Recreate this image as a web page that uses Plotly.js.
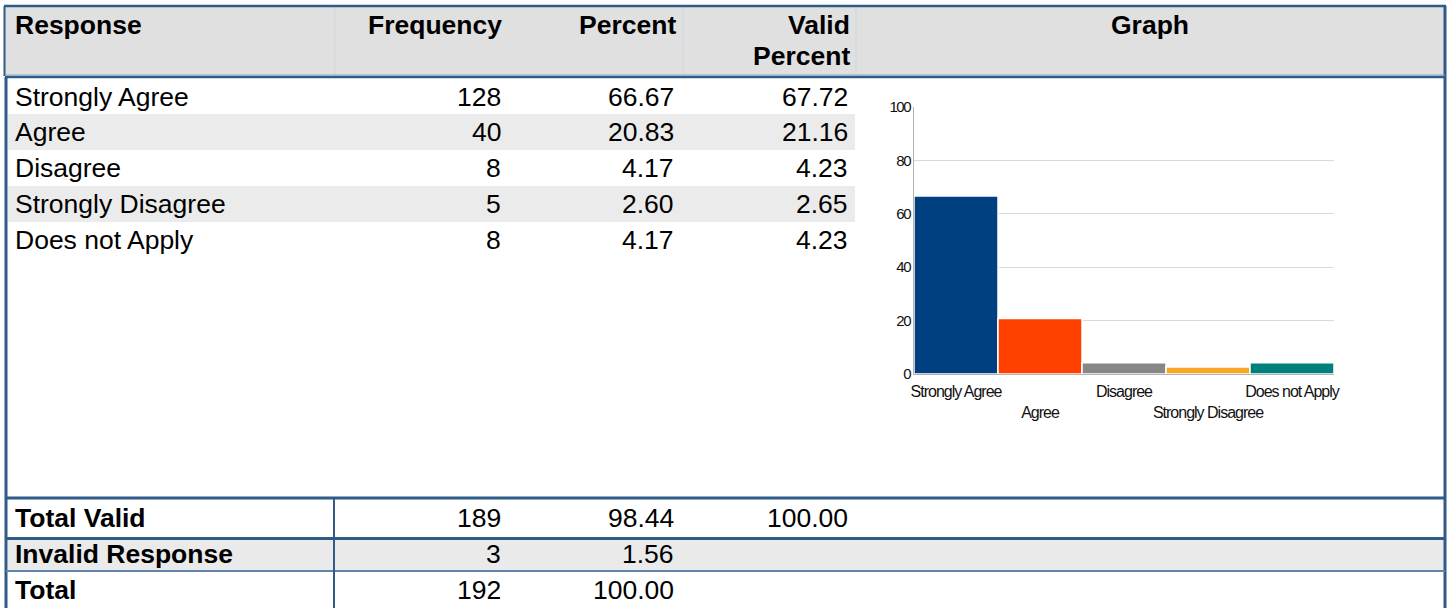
<!DOCTYPE html>
<html>
<head>
<meta charset="utf-8">
<script src="https://cdn.plot.ly/plotly-3.0.1.min.js"></script>
<style>
html,body{margin:0;padding:0;background:#fff;}
#chart{width:1448px;height:608px;}
.xtick text{letter-spacing:-1px;}
.ytick text{letter-spacing:-1.5px;}
</style>
</head>
<body>
<div id="chart"></div>
<script>
// ---- data ----
var headers = ['Response', 'Frequency', 'Percent', 'Valid', 'Percent', 'Graph'];
var responses = ['Strongly Agree', 'Agree', 'Disagree', 'Strongly Disagree', 'Does not Apply'];
var frequency = [128, 40, 8, 5, 8];
var percent = [66.67, 20.83, 4.17, 2.60, 4.17];
var validPercent = [67.72, 21.16, 4.23, 2.65, 4.23];
var barColors = ['#004080', '#ff4000', '#878787', '#f7a823', '#00807a'];
var footerLabels = ['Total Valid', 'Invalid Response', 'Total'];
var footerFreq = [189, 3, 192];
var footerPercent = [98.44, 1.56, 100.00];
var footerValid = [100.00, null, null];
var yTicks = [0, 20, 40, 60, 80, 100];

// ---- helpers (pixel -> paper) ----
var W = 1448, H = 608;
function px(x){ return x / W; }
function py(y){ return 1 - y / H; }
var BORDER = '#2e5b87';
var FONT = 'Liberation Sans, Arial, sans-serif';
var TS = 26.5;

var shapes = [];
function rect(x0, y0, x1, y1, fill){
  shapes.push({type:'rect', xref:'paper', yref:'paper', x0:px(x0), x1:px(x1), y0:py(y0), y1:py(y1),
    fillcolor:fill, line:{width:0}, layer:'below'});
}
function line(x0, y0, x1, y1, color, w){
  shapes.push({type:'line', xref:'paper', yref:'paper', x0:px(x0), x1:px(x1), y0:py(y0), y1:py(y1),
    line:{color:color, width:w}, layer:'above'});
}
var ann = [];
function txt(s, x, y, anchor, bold, size){
  ann.push({text:s, xref:'paper', yref:'paper', x:px(x), y:py(y), xanchor:anchor, yanchor:'middle',
    showarrow:false, align:anchor === 'left' ? 'left' : (anchor === 'right' ? 'right' : 'center'),
    font:{family:FONT, size:size || TS, color:'#000', weight:bold ? 700 : 400}});
}

// header background
rect(5, 7, 1444, 75, '#e0e0e0');
// header column separators (faint)
[335, 683, 856].forEach(function(x){ line(x, 7, x, 75, '#cfd6dd', 1); });
// row shading
var rowY = [97, 132, 168, 204, 240];
[1, 3].forEach(function(i){ rect(8, rowY[i] - 18, 855, rowY[i] + 18, '#ebebeb'); });
// invalid row shading
rect(8, 540, 1444, 570, '#eaeaea');

// borders
line(4, 6, 1446, 6, BORDER, 2.5);
line(4.5, 6, 4.5, 76, BORDER, 2);
line(1445, 6, 1445, 608, BORDER, 3);
line(5, 75, 1445, 75, '#8aa5c0', 1);
line(5, 77, 1445, 77, BORDER, 2.5);
line(6, 77, 6, 608, BORDER, 3);
line(6, 498, 1445, 498, BORDER, 3);
line(6, 538.5, 1445, 538.5, BORDER, 3);
line(6, 571, 1445, 571, '#5f86aa', 2);
line(334, 498, 334, 608, BORDER, 2);

// header texts
txt(headers[0], 13, 25, 'left', true);
txt(headers[1], 504, 25, 'right', true);
txt(headers[2], 678, 25, 'right', true);
txt(headers[3], 852, 25, 'right', true);
txt(headers[4], 852, 56, 'right', true);
txt(headers[5], 1150, 25, 'center', true);

// body rows
responses.forEach(function(r, i){
  txt(r, 13, rowY[i], 'left', false);
  txt(String(frequency[i]), 503, rowY[i], 'right', false);
  txt(percent[i].toFixed(2), 676, rowY[i], 'right', false);
  txt(validPercent[i].toFixed(2), 850, rowY[i], 'right', false);
});

// footer rows
var footY = [518, 554, 590];
footerLabels.forEach(function(l, i){
  txt(l, 13, footY[i], 'left', true);
  txt(String(footerFreq[i]), 503, footY[i], 'right', false);
  txt(footerPercent[i].toFixed(2), 676, footY[i], 'right', false);
  if (footerValid[i] !== null) txt(footerValid[i].toFixed(2), 850, footY[i], 'right', false);
});

// staggered category tick labels
var tickText = responses.map(function(r, i){ return i % 2 === 1 ? '<br>' + r : r; });

var trace = {
  type:'bar', x:responses, y:percent,
  marker:{color:barColors, line:{color:'#ffffff', width:1.5}},
  hoverinfo:'x+y'
};

var layout = {
  width:W, height:H,
  margin:{l:0, r:0, t:0, b:0},
  paper_bgcolor:'rgba(0,0,0,0)', plot_bgcolor:'rgba(0,0,0,0)',
  showlegend:false,
  bargap:0,
  xaxis:{domain:[px(914), px(1334)], type:'category', tickmode:'array', tickvals:responses, ticktext:tickText,
    tickangle:0, ticklabelstandoff:3, showline:true, linecolor:'#b3b3b3', linewidth:1, showgrid:false, ticks:'', zeroline:false,
    tickfont:{family:FONT, size:16, color:'#111'}, fixedrange:true, automargin:false},
  yaxis:{domain:[py(374), py(107)], range:[0, 100], tickmode:'array', tickvals:yTicks,
    showline:true, linecolor:'#b3b3b3', linewidth:1, showgrid:true, gridcolor:'#d9d9d9', gridwidth:1,
    zeroline:false, ticks:'', tickfont:{family:FONT, size:15, color:'#111'}, fixedrange:true, automargin:false},
  shapes:shapes,
  annotations:ann
};

Plotly.newPlot('chart', [trace], layout, {displayModeBar:false, staticPlot:true});
</script>
</body>
</html>
